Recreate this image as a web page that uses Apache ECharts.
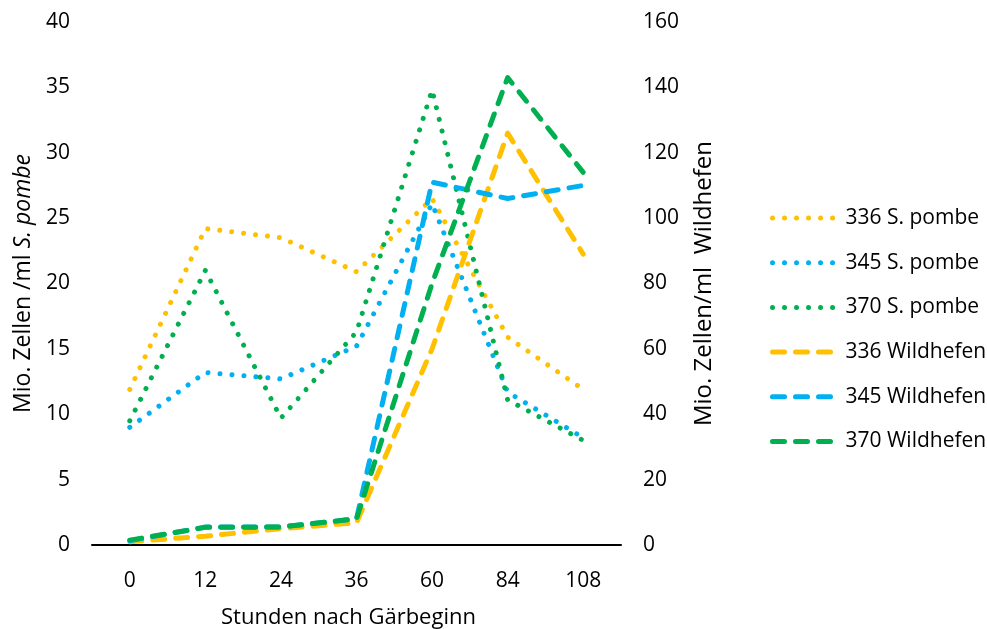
<!DOCTYPE html>
<html>
<head>
<meta charset="utf-8">
<script src="https://cdn.jsdelivr.net/npm/echarts@6/dist/echarts.min.js"></script>
<style>
  html, body { margin: 0; padding: 0; background: #fff; }
  #chart { width: 987px; height: 629px; }
</style>
</head>
<body>
<div id="chart"></div>
<script>
// Hours after start of fermentation
const hours = ['0', '12', '24', '36', '60', '84', '108'];

// Million cells / ml S. pombe (left axis)
const pombe336 = [11.9, 24.2, 23.5, 20.9, 26.5, 15.9, 11.9];
const pombe345 = [9.0, 13.2, 12.7, 15.2, 26.1, 11.7, 8.2];
const pombe370 = [9.5, 21.0, 9.7, 16.3, 34.8, 11.1, 8.0];

// Million cells / ml wild yeasts (right axis)
const wild336 = [1.0, 2.7, 5.0, 6.8, 60, 126, 89];
const wild345 = [1.3, 5.5, 5.5, 8.0, 111, 106, 110];
const wild370 = [1.5, 5.4, 5.5, 8.0, 80, 143, 114];

const leftTicks = { min: 0, max: 40, interval: 5 };
const rightTicks = { min: 0, max: 160, interval: 20 };

const FONT = 'Open Sans';
const TEXT = '#000';
const ORANGE = '#FFC000';
const BLUE = '#00B0F0';
const GREEN = '#00B050';

const DOTS = [0.01, 12];
const DASHES = [12, 11];
const DOT_WIDTH = 5;
const DASH_WIDTH = 5;

function series(name, data, color, axisIndex, dash, width) {
  return {
    name: name,
    type: 'line',
    data: data,
    yAxisIndex: axisIndex,
    symbol: 'none',
    lineStyle: { color: color, width: width, type: dash, cap: 'round', join: 'round' },
    itemStyle: { color: color },
    emphasis: { disabled: true }
  };
}

const tickStyle = { fontFamily: FONT, fontSize: 21, color: TEXT };
const xTitleStyle = { fontFamily: FONT, fontSize: 22, color: TEXT, padding: [0, 16, 0, 0] };
const yTitleStyle = { fontFamily: FONT, fontSize: 23, color: TEXT };
const y2TitleStyle = { fontFamily: FONT, fontSize: 24, color: TEXT };
const legendStyle = { fontFamily: FONT, fontSize: 21, color: TEXT };

const chart = echarts.init(document.getElementById('chart'));
chart.setOption({
  animation: false,
  grid: { left: 92, right: 366, top: 22, bottom: 84, containLabel: false, outerBoundsMode: 'none' },
  xAxis: {
    type: 'category',
    data: hours,
    axisLine: { lineStyle: { color: '#000', width: 2 } },
    axisTick: { show: false },
    axisLabel: Object.assign({ margin: 26 }, tickStyle),
    name: 'Stunden nach Gärbeginn',
    nameLocation: 'middle',
    nameGap: 62,
    nameTextStyle: xTitleStyle
  },
  yAxis: [
    {
      type: 'value',
      min: leftTicks.min, max: leftTicks.max, interval: leftTicks.interval,
      splitLine: { show: false },
      axisLine: { show: false },
      axisTick: { show: false },
      axisLabel: Object.assign({ margin: 22 }, tickStyle),
      name: '{a|Mio. Zellen /ml }{b|S. pombe}',
      nameLocation: 'middle',
      nameRotate: 90,
      nameGap: 51,
      nameTextStyle: {
        rich: {
          a: yTitleStyle,
          b: Object.assign({ fontStyle: 'italic' }, yTitleStyle)
        }
      }
    },
    {
      type: 'value',
      position: 'right',
      min: rightTicks.min, max: rightTicks.max, interval: rightTicks.interval,
      splitLine: { show: false },
      axisLine: { show: false },
      axisTick: { show: false },
      axisLabel: Object.assign({ margin: 22 }, tickStyle),
      name: 'Mio. Zellen/ml  Wildhefen',
      nameLocation: 'middle',
      nameRotate: 90,
      nameGap: 71,
      nameTextStyle: y2TitleStyle
    }
  ],
  legend: {
    orient: 'vertical',
    left: 765,
    top: 202,
    itemWidth: 65,
    itemHeight: 14,
    itemGap: 22.7,
    itemStyle: { opacity: 0 },
    lineStyle: { width: 'inherit' },
    textStyle: Object.assign({ lineHeight: 22, padding: [0, 0, 0, 3] }, legendStyle),
    data: ['336 S. pombe', '345 S. pombe', '370 S. pombe', '336 Wildhefen', '345 Wildhefen', '370 Wildhefen']
  },
  series: [
    series('336 S. pombe', pombe336, ORANGE, 0, DOTS, DOT_WIDTH),
    series('345 S. pombe', pombe345, BLUE, 0, DOTS, DOT_WIDTH),
    series('370 S. pombe', pombe370, GREEN, 0, DOTS, DOT_WIDTH),
    series('336 Wildhefen', wild336, ORANGE, 1, DASHES, DASH_WIDTH),
    series('345 Wildhefen', wild345, BLUE, 1, DASHES, DASH_WIDTH),
    series('370 Wildhefen', wild370, GREEN, 1, DASHES, DASH_WIDTH)
  ]
});
</script>
</body>
</html>
